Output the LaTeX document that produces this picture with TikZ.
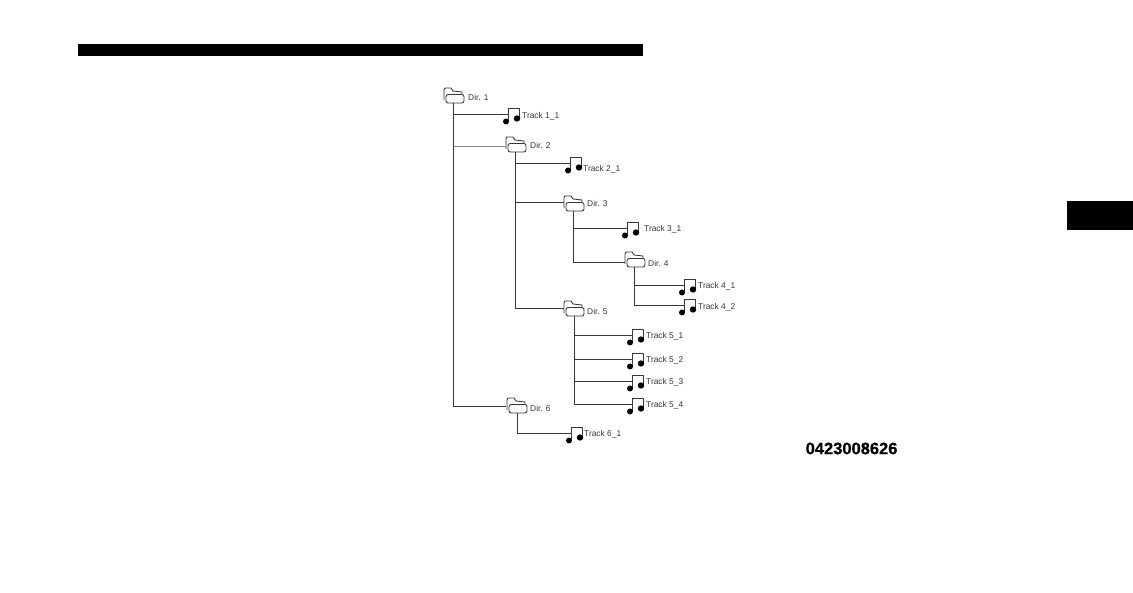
\documentclass[tikz,border=0pt]{standalone}
\usepackage{fontspec}
\setmainfont{Liberation Sans}
\newfontfamily\codefont[BoldFeatures={FakeBold=0.6}]{Liberation Sans}
\definecolor{ink}{gray}{0.22}
\tikzset{
  x=1pt,y=-1pt,
  anchorbox/.style={inner sep=0pt,outer sep=0pt,minimum width=0pt,minimum height=0pt},
  link/.style={draw=ink,line width=0.9pt},
  palelink/.style={draw=ink!60,line width=0.7pt},
  outline/.style={draw=ink,line width=0.85pt,line join=round},
  lab/.style={anchor=west,inner sep=0pt,font=\fontsize{8.4}{10}\selectfont,text=ink},
  bar/.style={fill=black,draw=none}
}
% folder: #1 name, #2 trunk x, #3 top y, #4 label, #5 label x, #6 label y
\newcommand{\folderitem}[6]{%
  \draw[outline,fill=white] (#2-9,#3+12) -- (#2-9,#3+2) .. controls (#2-9,#3) and (#2-8,#3) .. (#2-7,#3)
    -- (#2-2,#3) -- (#2,#3+3) -- (#2+9,#3+4) -- (#2+9,#3+7);
  \draw[outline,fill=white,rounded corners=2.2pt] (#2-7,#3+6.5) rectangle (#2+11,#3+15);
  \node[anchorbox,minimum width=18pt,minimum height=15pt] (#1) at (#2+1,#3+7.5) {};
  \node[lab] (#1l) at (#5,#6) {#4};
}
% note: #1 name, #2 stem x, #3 connector y, #4 label, #5 label x, #6 label y
\newcommand{\noteitem}[6]{%
  \draw[outline] (#2,#3+7) -- (#2,#3-6) -- (#2+11,#3-6) -- (#2+11,#3+4);
  \fill[black] (#2-2,#3+7.5) circle (3pt);
  \fill[black] (#2+9,#3+4.5) circle (3.2pt);
  \node[anchorbox] (#1) at (#2,#3) {};
  \node[lab] (#1l) at (#5,#6) {#4};
}
\begin{document}
\begin{tikzpicture}
\useasboundingbox (0,0) rectangle (1133,593);
\fill[white] (0,0) rectangle (1133,593);
\fill[bar] (78,44) rectangle (643,56);
\fill[bar] (1067,201) rectangle (1133,230);
\node[anchor=west,inner sep=0pt,font=\fontsize{16.5}{18}\codefont\bfseries\selectfont] (code) at (805.5,448.5) {0423008626};

\folderitem{d1}{453}{88}{Dir. 1}{468}{97.5}
\folderitem{d2}{515}{137}{Dir. 2}{530}{145.5}
\folderitem{d3}{573}{196}{Dir. 3}{587}{203.5}
\folderitem{d4}{634}{252}{Dir. 4}{648}{263}
\folderitem{d5}{573}{301}{Dir. 5}{587}{311}
\folderitem{d6}{516}{398}{Dir. 6}{530}{408}

\noteitem{t11}{508}{114}{Track 1\_1}{522}{116.5}
\noteitem{t21}{570}{163}{Track 2\_1}{583}{169}
\noteitem{t31}{627}{228}{Track 3\_1}{644}{229.5}
\noteitem{t41}{684}{285}{Track 4\_1}{698}{286.5}
\noteitem{t42}{684}{305}{Track 4\_2}{698}{307}
\noteitem{t51}{632}{335}{Track 5\_1}{646}{336}
\noteitem{t52}{632}{359}{Track 5\_2}{646}{360}
\noteitem{t53}{632}{381}{Track 5\_3}{646}{382}
\noteitem{t54}{632}{404}{Track 5\_4}{646}{405}
\noteitem{t61}{571}{433}{Track 6\_1}{584}{434}

\coordinate (j12) at (506,146);
\coordinate (j16) at (506,406);
\coordinate (j23) at (564,202);
\coordinate (j25) at (564,308);
\coordinate (j34) at (625,262);

\draw[link] (453,103) |- (t11.west);
\draw[palelink] (453,146) -- (j12);
\draw[link] (453,103) |- (j16);
\draw[link] (515,152) |- (t21.west);
\draw[link] (515,152) |- (j23);
\draw[link] (515,152) |- (j25);
\draw[link] (573,211) |- (t31.west);
\draw[link] (573,211) |- (j34);
\draw[link] (634,267) |- (t41.west);
\draw[link] (634,267) |- (t42.west);
\draw[link] (574,316) |- (t51.west);
\draw[link] (574,316) |- (t52.west);
\draw[link] (574,316) |- (t53.west);
\draw[link] (574,316) |- (t54.west);
\draw[link] (517.5,413) |- (t61.west);
\end{tikzpicture}
\end{document}
